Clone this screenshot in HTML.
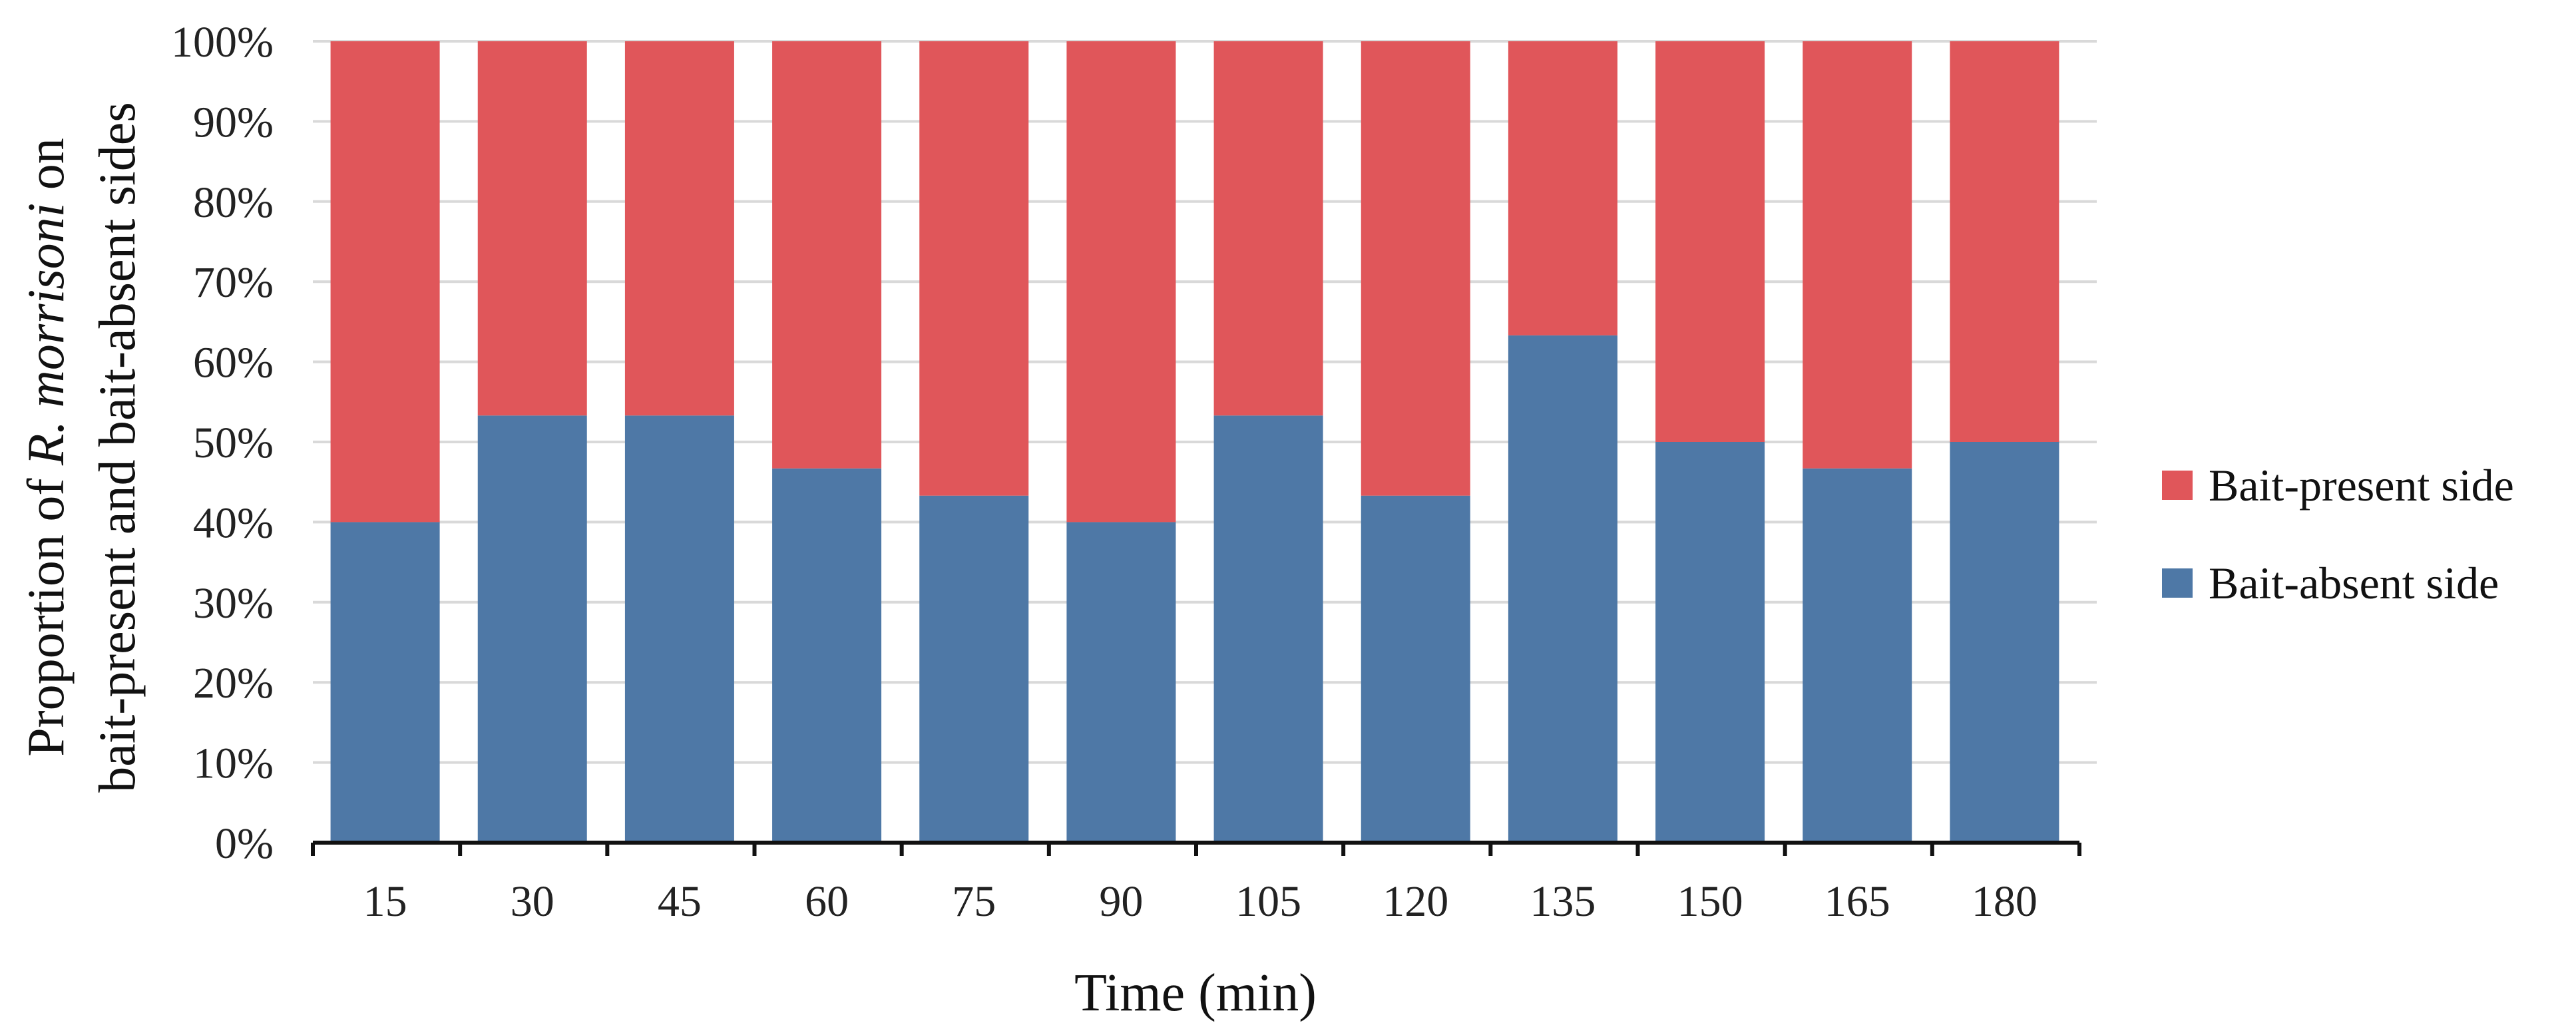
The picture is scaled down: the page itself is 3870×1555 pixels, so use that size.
<!DOCTYPE html>
<html><head><meta charset="utf-8"><style>
html,body{margin:0;padding:0;background:#fff;}
svg{display:block;font-family:"Liberation Serif",serif;}
</style></head><body>
<svg id="chart" width="3870" height="1555" viewBox="0 0 3870 1555" xmlns="http://www.w3.org/2000/svg">
<g id="grid"></g>
<g id="bars"></g>
<g id="axes"></g>
<text x="1796" y="1518" font-size="80" text-anchor="middle" fill="#111">Time (min)</text>
<g font-size="78" fill="#111" text-anchor="middle">
<text transform="translate(95,672) rotate(-90)">Proportion of <tspan font-style="italic">R. morrisoni</tspan> on</text>
<text transform="translate(202,672) rotate(-90)">bait-present and bait-absent sides</text>
</g>
<g font-size="68" fill="#111">
<g>
<rect x="3248" y="707" width="46" height="44" fill="#e0565a"/>
<text x="3318" y="752">Bait-present side</text></g>
<g>
<rect x="3248" y="854" width="46" height="44" fill="#4e78a6"/>
<text x="3318" y="899">Bait-absent side</text></g>
</g>
</svg>
<script>
const categories=["15","30","45","60","75","90","105","120","135","150","165","180"];
const baitAbsent=[40,53.3,53.3,46.7,43.3,40,53.3,43.3,63.3,50,46.7,50];
const baitPresent=[60,46.7,46.7,53.3,56.7,60,46.7,56.7,36.7,50,53.3,50];
const yTicks=[0,10,20,30,40,50,60,70,80,90,100];
const NS="http://www.w3.org/2000/svg";
const X0=470,X1=3124,Y0=1266,Y1=62,GX1=3150;
const step=(X1-X0)/categories.length, bw=164;
const y=v=>Y0-(v/100)*(Y0-Y1);
const xc=i=>X0+step*(i+0.5)-2;
function mk(tag,attrs,parent){const e=document.createElementNS(NS,tag);for(const k in attrs)e.setAttribute(k,attrs[k]);parent.appendChild(e);return e;}
const grid=document.getElementById('grid'),bars=document.getElementById('bars'),axes=document.getElementById('axes');
yTicks.forEach(t=>{
  if(t>0){const l=mk('line',{x1:X0,x2:GX1,y1:y(t),y2:y(t),stroke:'#d9d9d9','stroke-width':4},grid);
  
  }
  const tx=mk('text',{x:411,y:y(t)+23,'font-size':66,'text-anchor':'end',fill:'#222'},axes);
  tx.textContent=t+'%';
  
  
});
categories.forEach((c,i)=>{
  const x=xc(i)-bw/2;
  const b=mk('rect',{x:x,y:y(baitAbsent[i]),width:bw,height:Y0-y(baitAbsent[i]),fill:'#4e78a6'},bars);
  
  
  const r=mk('rect',{x:x,y:y(baitAbsent[i]+baitPresent[i]),width:bw,height:y(baitAbsent[i])-y(baitAbsent[i]+baitPresent[i]),fill:'#e0565a'},bars);
  
  
  const tx=mk('text',{x:xc(i),y:1376,'font-size':66,'text-anchor':'middle',fill:'#222'},axes);
  tx.textContent=c;
  
  
});
const ax=mk('line',{x1:X0,x2:X1,y1:Y0,y2:Y0,stroke:'#111','stroke-width':6},axes);


for(let i=0;i<=categories.length;i++){
  const tk=mk('line',{x1:X0+step*i,x2:X0+step*i,y1:Y0,y2:Y0+20,stroke:'#111','stroke-width':6},axes);
  
  
}
</script>
</body></html>
